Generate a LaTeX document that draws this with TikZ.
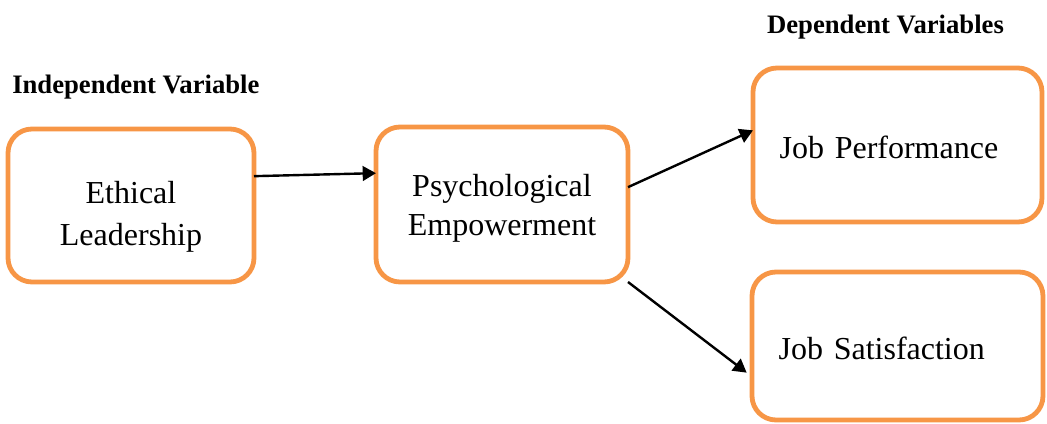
\documentclass[tikz,border=0pt]{standalone}
\usepackage{fontspec}
\setmainfont{Liberation Serif}
\usetikzlibrary{arrows.meta}
\definecolor{boxorange}{HTML}{F79646}
\newcommand{\mvtext}[3]{\raisebox{0pt}[\dimexpr\height+#1*2\relax][\depth]{\begin{tabular}{@{}#2@{}}#3\end{tabular}}}
\tikzset{
  varbox/.style={draw=boxorange, line width=3.6pt, rounded corners=18pt, fill=white,
    outer sep=0pt, inner sep=0pt, align=center, font=\fontsize{24}{29}\selectfont},
  depbox/.style={varbox, align=left, inner xsep=20pt},
  conn/.style={line width=1.8pt, -{Triangle[length=10pt,width=11pt]}},
  heading/.style={font=\fontsize{20}{24}\selectfont\bfseries, inner sep=0pt}
}
\begin{document}
\begin{tikzpicture}[x=0.75pt,y=-0.75pt]
\useasboundingbox (0,0) rectangle (1047,424);
\node[heading, anchor=west] (indep) at (12,87.5) {Independent Variable};
\node[heading] (dep) at (885.5,27) {Dependent Variables};
\node[varbox, minimum width=184.5pt, minimum height=114.75pt, font=\fontsize{24}{31}\selectfont] (b1) at (131,205.5) {\mvtext{8pt}{c}{Ethical\\Leadership}};
\node[varbox, minimum width=189pt, minimum height=116.25pt] (b2) at (502,204.5) {\mvtext{3pt}{c}{Psychological\\Empowerment}};
\node[depbox, minimum width=216.75pt, minimum height=115.5pt, text width=176.75pt] (b3) at (897.5,145) {\mvtext{4.5pt}{l}{Job Performance}};
\node[depbox, minimum width=218.25pt, minimum height=111pt, text width=178.25pt] (b4) at (897.5,346) {\mvtext{4.5pt}{l}{Job Satisfaction}};
\draw[conn] ([yshift=22pt]b1.east) -- ([yshift=23.5pt]b2.west);
\draw[conn] ([yshift=13pt]b2.east) -- ([yshift=11pt]b3.west);
\draw[conn] (b2.south east) -- ([xshift=-4pt,yshift=-20pt]b4.west);
\end{tikzpicture}
\end{document}
